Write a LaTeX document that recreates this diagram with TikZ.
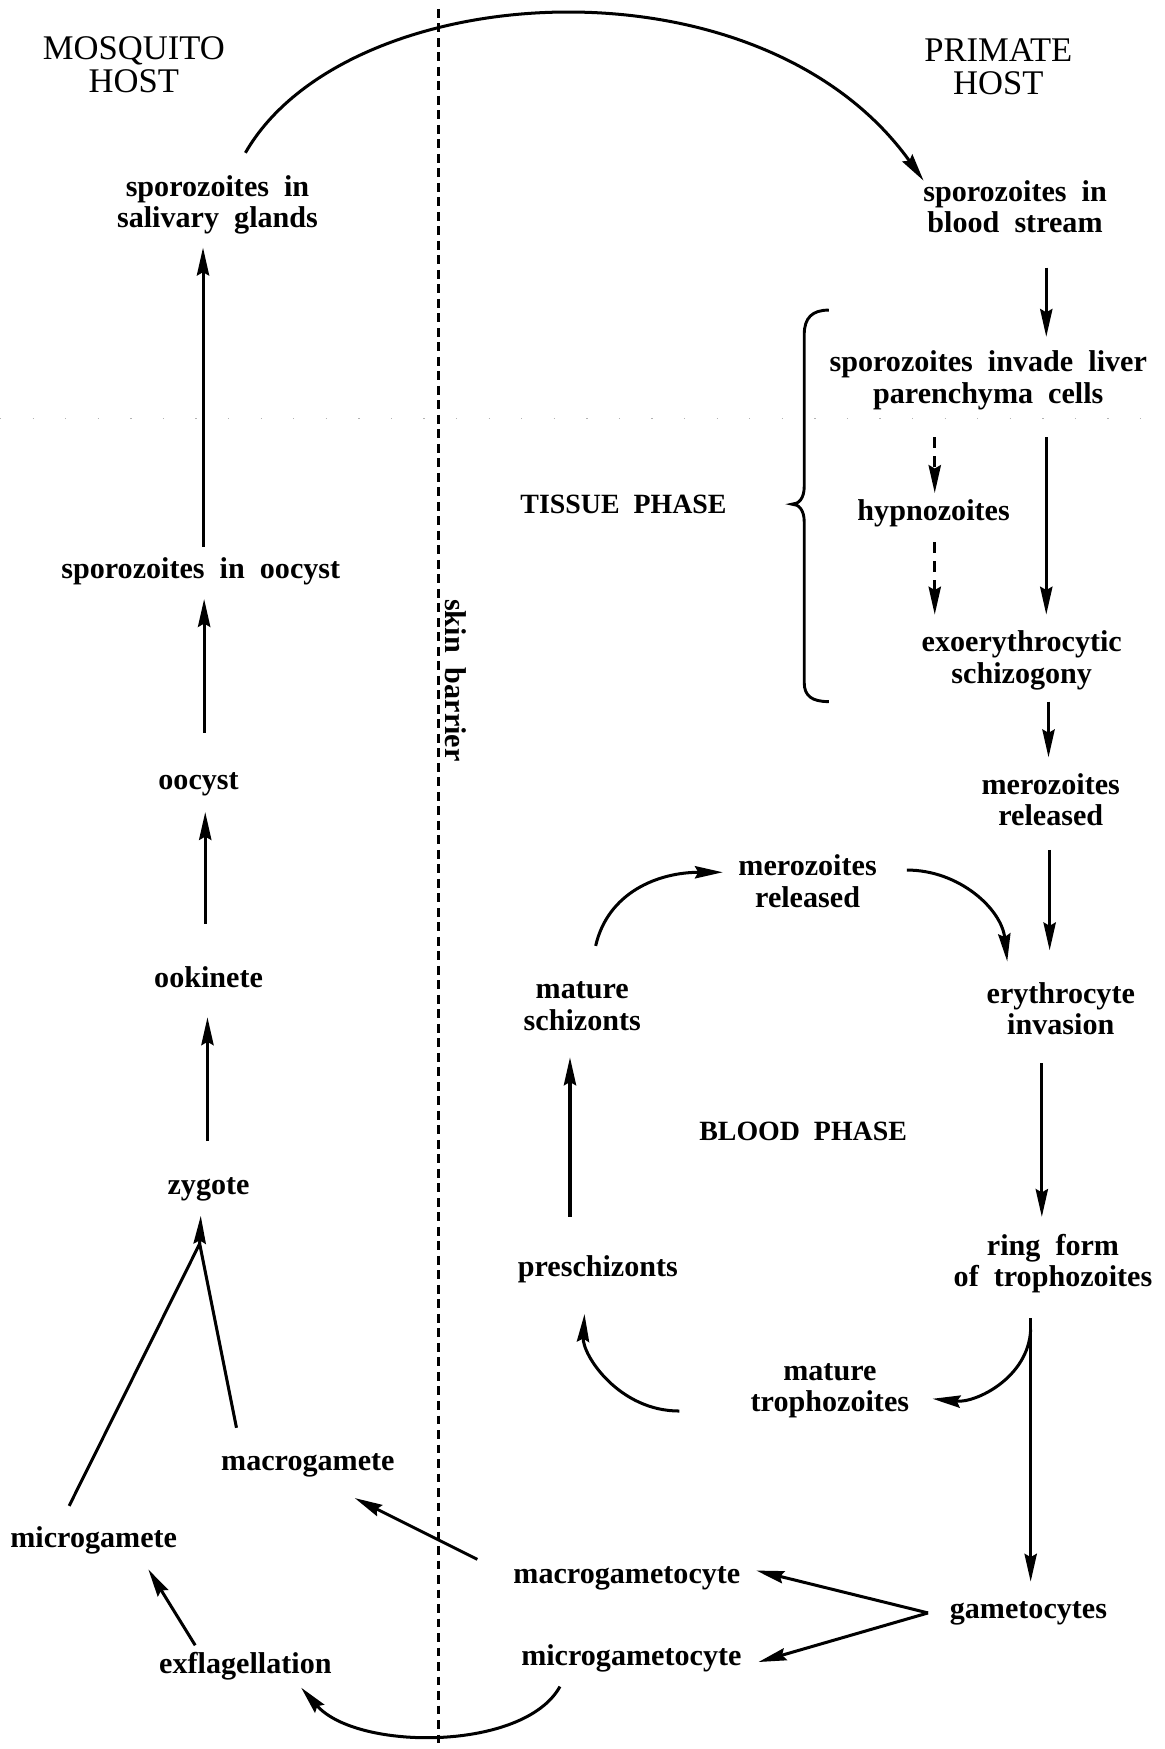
\documentclass[tikz,border=0pt]{standalone}
\usepackage{fontspec}
\setmainfont{Liberation Serif}
\usetikzlibrary{arrows.meta,calc}
\newcommand\labfont{\fontsize{13.5}{14}\selectfont\bfseries\spaceskip=0.5em plus 0.1em\relax}
\newcommand\titfont{\fontsize{15.5}{14.5}\selectfont}
\newcommand\phfont{\fontsize{12.5}{14}\selectfont\bfseries\spaceskip=0.5em\relax}
\begin{document}
\begin{tikzpicture}[x=0.5pt,y=-0.5pt,
  lab/.style={font=\labfont,align=center,inner sep=0pt},
  tit/.style={font=\titfont,align=center,inner sep=0pt},
  phase/.style={font=\phfont,inner sep=0pt},
  ln/.style={line width=1.35pt},
  arr/.style={ln,-{Stealth[length=12.5pt,width=5.5pt,inset=1.5pt]}},
  darr/.style={arr,dash pattern=on 5pt off 3.5pt},
]
\useasboundingbox (0,0) rectangle (1044,1568);
% faint scan line
\draw[gray!60,line width=0.5pt,dash pattern=on 0.6pt off 14pt] (0,375) -- (1044,375);
% skin barrier
\draw[line width=1.5pt,dash pattern=on 4pt off 2.5pt] (393,8) -- (393,1568);
\node[lab,rotate=-90] (skin) at (409,610) {skin barrier};
% titles
\node[tit] (mh) at (120,58) {MOSQUITO\\HOST};
\node[tit] (prh) at (895,60) {PRIMATE\\HOST};
% mosquito nodes
\node[lab] (salg) at (195,184) {sporozoites in\\salivary glands};
\node[lab] (spoo) at (180,512) {sporozoites in oocyst};
\node[lab] (oocyst) at (178,703) {oocyst};
\node[lab] (ook) at (187,876) {ookinete};
\node[lab] (zyg) at (187,1066) {zygote};
\node[lab] (macg) at (276,1314) {macrogamete};
\node[lab] (micg) at (84,1381) {microgamete};
\node[lab] (exfl) at (220,1494) {exflagellation};
% primate nodes
\node[lab] (blood) at (910,185) {sporozoites in\\blood stream};
\node[lab] (liver) at (886,341) {sporozoites invade liver\\parenchyma cells};
\node[phase] (tissue) at (559,452) {TISSUE PHASE};
\node[lab] (hypno) at (837,460) {hypnozoites};
\node[lab] (exo) at (916,592) {exoerythrocytic\\schizogony};
\node[lab] (meroA) at (942,717) {merozoites\\released};
\node[lab] (meroB) at (724,790) {merozoites\\released};
\node[lab] (schiz) at (522,902) {mature\\schizonts};
\node[lab] (eryth) at (951,904) {erythrocyte\\invasion};
\node[phase] (bph) at (720,1014) {BLOOD PHASE};
\node[lab] (ring) at (944,1133) {ring form\\of trophozoites};
\node[lab] (presch) at (536,1138) {preschizonts};
\node[lab] (troph) at (744,1247) {mature\\trophozoites};
\node[lab] (macc) at (562,1415) {macrogametocyte};
\node[lab] (micc) at (566,1487) {microgametocyte};
\node[lab] (gamc) at (922,1446) {gametocytes};
% brace
\draw[line width=1.3pt] (743,278) .. controls (728,278) and (721,285) .. (721,300)
  -- (721,436) .. controls (721,447) and (716,452) .. (710,452)
  .. controls (716,452) and (721,457) .. (721,468)
  -- (721,612) .. controls (721,624) and (728,629) .. (743,629);
% connectors
\draw[arr] ($(salg)+(25,-47)$) .. controls (310,-20) and (680,-45) .. ($(blood)+(-82,-23)$);
\draw[arr] ($(spoo)+(2,-22)$) -- ($(salg)+(-13,38)$);
\draw[arr] ($(oocyst)+(5,-46)$) -- ($(spoo)+(3,25)$);
\draw[arr] ($(ook)+(-3,-48)$) -- ($(oocyst)+(6,25)$);
\draw[arr] ($(zyg)+(-1,-43)$) -- ($(ook)+(-1,36)$);
\coordinate (apex) at ($(zyg)+(-8,49)$);
\draw[ln] ($(micg)+(-22,-31)$) -- (apex) -- ($(macg)+(-64,-34)$);
\draw[arr] (apex) -- ($(zyg)+(-7,24)$);
\draw[arr] ($(macc)+(-134,-17)$) -- ($(macg)+(42,29)$);
\draw[arr] ($(exfl)+(-45,-19)$) -- ($(micg)+(49,26)$);
\draw[arr] ($(micc)+(-64,25)$) .. controls (470,1570) and (320,1570) .. ($(exfl)+(50,19)$);
\coordinate (gapex) at ($(gamc)+(-90,0)$);
\draw[arr] (gapex) -- ($(macc)+(116,-7)$);
\draw[arr] (gapex) -- ($(micc)+(114,3)$);
\draw[arr] ($(ring)+(-20,49)$) -- ($(gamc)+(2,-28)$);
\draw[arr] ($(ring)+(-20,59)$) .. controls (922,1235) and (875,1258) .. ($(troph)+(92,7)$);
\draw[arr] ($(troph)+(-135,18)$) .. controls (555,1265) and (522,1215) .. ($(presch)+(-12,40)$);
\draw[arr] ($(presch)+(-25,-47)$) -- ($(schiz)+(-11,46)$);
\draw[arr] ($(schiz)+(12,-54)$) .. controls (545,800) and (590,782) .. ($(meroB)+(-76,-8)$);
\draw[arr] ($(meroB)+(89,-10)$) .. controls (860,780) and (898,815) .. ($(eryth)+(-48,-42)$);
\draw[arr] ($(meroA)+(-1,45)$) -- ($(eryth)+(-10,-52)$);
\draw[arr] ($(eryth)+(-17,49)$) -- ($(ring)+(-10,-42)$);
\draw[arr] ($(blood)+(28,55)$) -- ($(liver)+(52,-39)$);
\draw[arr] ($(liver)+(52,51)$) -- ($(exo)+(22,-41)$);
\draw[darr] ($(liver)+(-48,51)$) -- ($(hypno)+(1,-18)$);
\draw[darr] ($(hypno)+(1,26)$) -- ($(exo)+(-78,-41)$);
\draw[arr] ($(exo)+(24,37)$) -- ($(meroA)+(-2,-38)$);
\end{tikzpicture}
\end{document}
